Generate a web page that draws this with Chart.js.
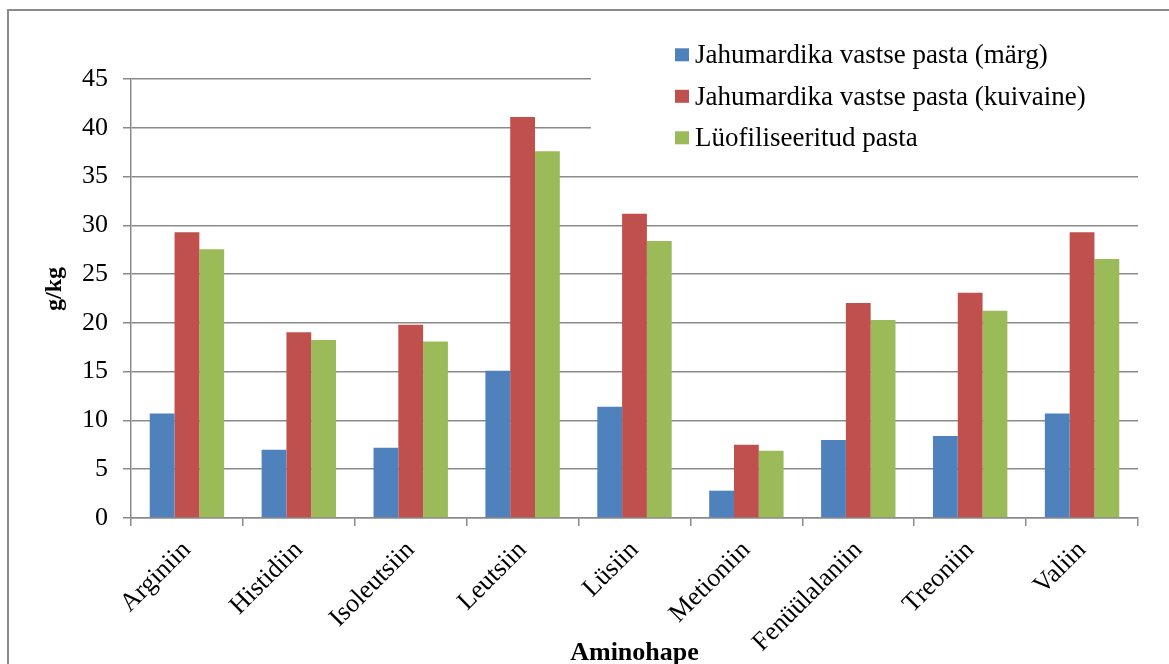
<!DOCTYPE html>
<html>
<head>
<meta charset="utf-8">
<title>Aminohapped</title>
<script src="https://cdn.jsdelivr.net/npm/chart.js@4.4.0/dist/chart.umd.min.js"></script>
<style>
  html, body { margin: 0; padding: 0; background: #ffffff; }
  #wrap { width: 1169px; height: 664px; position: relative; }
</style>
</head>
<body>
<div id="wrap"><canvas id="c" width="1169" height="664"></canvas></div>
<script>
// Amino acid content, g/kg
const categories = ['Arginiin', 'Histidiin', 'Isoleutsiin', 'Leutsiin', 'Lüsiin', 'Metioniin', 'Fenüülalaniin', 'Treoniin', 'Valiin'];
const seriesNames = ['Jahumardika vastse pasta (märg)', 'Jahumardika vastse pasta (kuivaine)', 'Lüofiliseeritud pasta'];
const wetValues = [10.7, 7.0, 7.2, 15.1, 11.4, 2.8, 8.0, 8.4, 10.7];
const dryValues = [29.3, 19.05, 19.8, 41.1, 31.2, 7.5, 22.05, 23.1, 29.3];
const lyoValues = [27.55, 18.25, 18.1, 37.6, 28.4, 6.9, 20.3, 21.25, 26.55];
const yTicks = [0, 5, 10, 15, 20, 25, 30, 35, 40, 45];
const xTitle = 'Aminohape';
const yTitle = 'g/kg';

const seriesColors = ['#4F81BD', '#C0504D', '#9BBB59'];
const gridColor = '#8a8a8a';
const serif = "'Liberation Serif', 'Times New Roman', serif";

// Outer frame and white background
const framePlugin = {
  id: 'frame',
  beforeDraw(chart) {
    const ctx = chart.ctx;
    ctx.save();
    ctx.fillStyle = '#ffffff';
    ctx.fillRect(0, 0, chart.width, chart.height);
    ctx.strokeStyle = gridColor;
    ctx.lineWidth = 2;
    ctx.strokeRect(8, 10, chart.width + 20, chart.height + 20);
    ctx.restore();
  }
};

// Legend box in the upper right of the plot, plus axis titles
const overlayPlugin = {
  id: 'overlay',
  afterDatasetsDraw(chart) {
    const ctx = chart.ctx;
    const area = chart.chartArea;
    ctx.save();
    // legend background hides the upper grid lines
    ctx.fillStyle = '#ffffff';
    ctx.fillRect(591, 30, area.right - 591 + 1, 135);
    ctx.font = '27px ' + serif;
    ctx.textAlign = 'left';
    ctx.textBaseline = 'alphabetic';
    chart.data.datasets.forEach((ds, i) => {
      const baseline = 63.3 + i * 41.5;
      ctx.fillStyle = ds.backgroundColor;
      ctx.fillRect(675, baseline - 15, 14, 13);
      ctx.fillStyle = '#000000';
      ctx.fillText(ds.label, 695, baseline);
    });

    // axis titles
    ctx.font = 'bold 26px ' + serif;
    ctx.textAlign = 'center';
    ctx.fillText(xTitle, (area.left + area.right) / 2, 660);

    ctx.translate(55, 289);
    ctx.rotate(-Math.PI / 2);
    ctx.font = 'bold 24px ' + serif;
    ctx.textBaseline = 'middle';
    ctx.fillText(yTitle, 0, 0);
    ctx.restore();
  }
};

const datasets = [wetValues, dryValues, lyoValues].map((vals, i) => ({
  label: seriesNames[i],
  data: vals,
  backgroundColor: seriesColors[i],
  borderWidth: 0,
  categoryPercentage: 0.665,
  barPercentage: 1.0
}));

new Chart(document.getElementById('c'), {
  type: 'bar',
  data: { labels: categories, datasets },
  options: {
    responsive: false,
    animation: false,
    devicePixelRatio: 1,
    layout: { padding: { left: 0, top: 79, right: 31, bottom: 0 } },
    plugins: {
      legend: { display: false },
      tooltip: { enabled: false },
      title: { display: false }
    },
    scales: {
      x: {
        type: 'category',
        offset: true,
        grid: {
          display: true,
          offset: true,
          drawOnChartArea: false,
          drawTicks: true,
          tickLength: 8,
          color: gridColor,
          lineWidth: 1.5
        },
        border: { display: true, color: gridColor, width: 1.5 },
        ticks: {
          color: '#000000',
          font: { family: serif, size: 26 },
          minRotation: 45,
          maxRotation: 45,
          autoSkip: false,
          padding: 9
        },
        afterFit(scale) { scale.height = 146; }
      },
      y: {
        min: 0,
        max: 45,
        afterBuildTicks(scale) { scale.ticks = yTicks.map(v => ({ value: v })); },
        grid: {
          color: gridColor,
          lineWidth: 1.5,
          tickLength: 8,
          drawTicks: true
        },
        border: { display: true, color: gridColor, width: 1.5 },
        ticks: {
          color: '#000000',
          font: { family: serif, size: 26 },
          padding: 15
        },
        afterFit(scale) { scale.width = 131; }
      }
    }
  },
  plugins: [framePlugin, overlayPlugin]
});
</script>
</body>
</html>
